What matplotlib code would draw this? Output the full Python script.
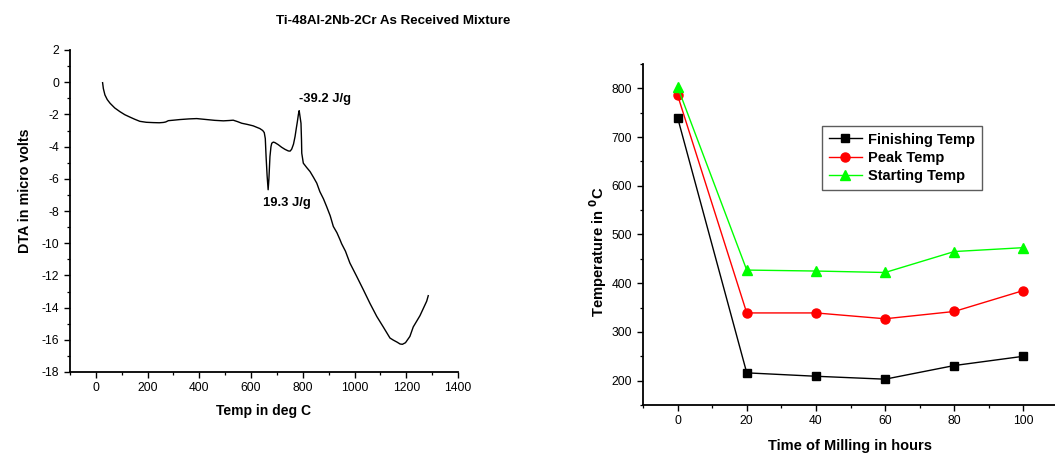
import matplotlib
matplotlib.use("Agg")
import matplotlib.pyplot as plt
from matplotlib.ticker import MultipleLocator

plt.rcParams['font.family'] = ['Liberation Sans', 'DejaVu Sans']
plt.rcParams['axes.unicode_minus'] = False

# DTA trace: temperature (deg C) and signal (micro volts)
dta_temp = [26, 29, 35, 44, 55, 73, 93, 112, 132, 150, 170, 195, 222, 245, 261,
            270, 280, 300, 325, 360, 390, 428, 460, 493, 515, 531, 548, 564,
            585, 608, 634, 645, 651, 655, 658, 662, 666, 669, 673, 677, 680,
            686, 692, 705, 718, 731, 744, 751, 757, 764, 770, 775, 779, 783,
            786, 789, 793, 795, 796, 802, 815, 828, 841, 854, 866, 880, 892,
            906, 918, 932, 944, 950, 965, 982, 1008, 1034, 1060, 1086, 1111,
            1137, 1150, 1165, 1176, 1185, 1197, 1214, 1227, 1240, 1253, 1266,
            1279, 1285]
dta_signal = [-0.03, -0.4, -0.79, -1.08, -1.31, -1.6, -1.83, -2.02, -2.17,
              -2.3, -2.43, -2.49, -2.51, -2.52, -2.5, -2.47, -2.39, -2.36,
              -2.32, -2.28, -2.26, -2.32, -2.37, -2.4, -2.38, -2.36, -2.45,
              -2.55, -2.62, -2.71, -2.88, -3.0, -3.13, -3.5, -4.6, -5.8, -6.68,
              -6.0, -4.62, -4.0, -3.79, -3.72, -3.75, -3.88, -4.04, -4.17,
              -4.27, -4.28, -4.16, -3.85, -3.38, -2.85, -2.45, -2.0, -1.77,
              -2.1, -2.55, -3.6, -4.41, -5.03, -5.3, -5.55, -5.9, -6.27, -6.8,
              -7.25, -7.72, -8.3, -8.96, -9.35, -9.79, -10.03, -10.5, -11.23,
              -12.05, -12.89, -13.75, -14.55, -15.2, -15.89, -16.02, -16.15,
              -16.26, -16.28, -16.18, -15.79, -15.2, -14.85, -14.5, -14.05,
              -13.6, -13.26]

# Transition temperatures versus milling time
milling_hours = [0, 20, 40, 60, 80, 100]
finishing_temp = [740, 216, 209, 203, 231, 250]
peak_temp = [786, 339, 339, 327, 342, 385]
starting_temp = [803, 427, 425, 422, 465, 473]

W, H = 1055, 455
fig = plt.figure(figsize=(W / 100, H / 100), dpi=100)


def px_axes(left, top, right, bottom):
    return fig.add_axes([left / W, 1 - bottom / H, (right - left) / W, (bottom - top) / H])


def style(ax):
    for s in ('top', 'right'):
        ax.spines[s].set_visible(False)
    for s in ('left', 'bottom'):
        ax.spines[s].set_linewidth(1.3)
    ax.tick_params(which='major', direction='out', length=4, width=1.0,
                   labelsize=8.7, colors='black', pad=3)
    ax.tick_params(which='minor', direction='out', length=2.5, width=0.9)
    ax.tick_params(axis='y', pad=4)


# Left panel: DTA curve
ax1 = px_axes(70, 50, 458, 372)
ax1.plot(dta_temp, dta_signal, color='black', lw=1.0)
ax1.set_xlim(-100, 1400)
ax1.set_ylim(-18, 2)
ax1.xaxis.set_major_locator(MultipleLocator(200))
ax1.xaxis.set_minor_locator(MultipleLocator(100))
ax1.yaxis.set_major_locator(MultipleLocator(2))
ax1.yaxis.set_minor_locator(MultipleLocator(1))
style(ax1)
ax1.set_xlabel('Temp in deg C', fontsize=10, fontweight='bold')
ax1.xaxis.set_label_coords(0.5, -(411 - 372) / 322, transform=ax1.transAxes)
ax1.set_ylabel('DTA in micro volts', fontsize=10.3, fontweight='bold')
ax1.yaxis.set_label_coords(-(70 - 25) / 388, (372 - 191) / 322, transform=ax1.transAxes)
ax1.yaxis.label.set_va('center')
ax1.xaxis.label.set_va('center')
ax1.text(786, -1.4, '-39.2 J/g', fontsize=9.4, fontweight='bold', ha='left', va='bottom')
ax1.text(648, -7.1, '19.3 J/g', fontsize=9.4, fontweight='bold', ha='left', va='top')
fig.text(393 / W, 1 - 21 / H, 'Ti-48Al-2Nb-2Cr As Received Mixture',
         fontsize=9.6, fontweight='bold', ha='center', va='center')

# Right panel: temperatures vs milling time
ax2 = px_axes(643, 64, 1058, 405)
ax2.plot(milling_hours, finishing_temp, color='black', lw=1.0, marker='s',
         ms=6, label='Finishing Temp')
ax2.plot(milling_hours, peak_temp, color='#ff0000', lw=1.0, marker='o',
         ms=6.5, label='Peak Temp')
ax2.plot(milling_hours, starting_temp, color='#00ff00', lw=1.0, marker='^',
         ms=7.3, label='Starting Temp')
ax2.set_xlim(-10, 110)
ax2.set_ylim(150, 850)
ax2.xaxis.set_major_locator(MultipleLocator(20))
ax2.xaxis.set_minor_locator(MultipleLocator(10))
ax2.yaxis.set_major_locator(MultipleLocator(100))
ax2.yaxis.set_minor_locator(MultipleLocator(50))
ax2.set_xticks([0, 20, 40, 60, 80, 100])
style(ax2)
ax2.set_xlabel('Time of Milling in hours', fontsize=10.5, fontweight='bold')
ax2.xaxis.set_label_coords((850 - 643) / 415, -(446 - 405) / 341, transform=ax2.transAxes)
ax2.set_ylabel('Temperature in $^{\\mathbf{0}}$C', fontsize=10.6, fontweight='bold')
ax2.yaxis.set_label_coords(-(643 - 598) / 415, (405 - 252) / 341, transform=ax2.transAxes)
ax2.yaxis.label.set_va('center')
ax2.xaxis.label.set_va('center')
leg = ax2.legend(loc='upper left', bbox_to_anchor=((822 - 643) / 415, 1 - (126 - 64) / 341),
                 prop={'weight': 'bold', 'size': 10.5}, frameon=True, fancybox=False,
                 handlelength=2.3, handletextpad=0.4, borderpad=0.45, labelspacing=0.3,
                 borderaxespad=0)
leg.get_frame().set_edgecolor('#333333')
leg.get_frame().set_linewidth(1.0)

fig.savefig('out.png', dpi=100)
